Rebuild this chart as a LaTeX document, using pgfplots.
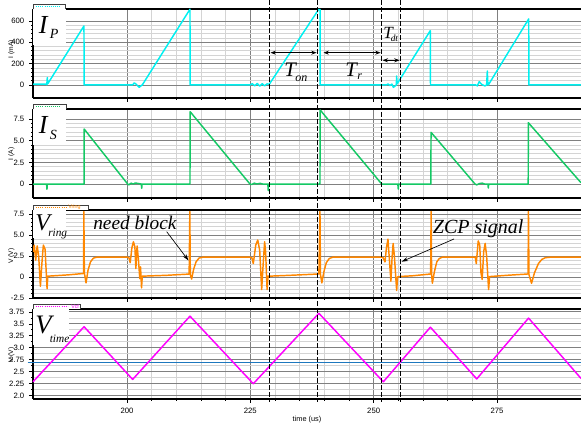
\documentclass[border=0pt]{standalone}
\usepackage{pgfplots}
\pgfplotsset{compat=1.18}
\usepackage{fontspec}
\setmainfont{Liberation Serif}
\newfontfamily\lsans{Liberation Sans}
\usetikzlibrary{arrows.meta}

\definecolor{cIP}{RGB}{0,240,240}
\definecolor{cIS}{RGB}{20,200,100}
\definecolor{cVr}{RGB}{255,135,0}
\definecolor{cVt}{RGB}{255,0,255}
\definecolor{cBl}{RGB}{30,120,190}
\definecolor{gmaj}{RGB}{128,128,128}
\definecolor{gmin}{RGB}{212,212,212}

\pgfplotsset{
 panel/.style={
   scale only axis, width=411pt, xmin=180.95, xmax=292.03,
   axis x line=box, axis y line=left,
   axis line style={-, line width=0.8pt, black},
   xtick={200,225,250,275}, minor x tick num=4,
   xtick pos=left,
   tick align=outside, major tick length=3pt, minor tick length=1.5pt,
   tick style={black, line width=0.5pt},
   grid=both, major grid style={gmaj, line width=0.6pt}, minor grid style={gmin, line width=0.5pt},
   ticklabel style={font=\lsans\fontsize{5.8}{6}\selectfont},
   anchor=south west,
   every axis plot/.append style={line width=1.1pt, line join=round},
 }
}

\begin{document}
\begin{tikzpicture}
\useasboundingbox (0,0) rectangle (435.75pt,317.25pt);

% ---------- Panel 1: I_P ----------
\begin{axis}[panel, at={(24.75pt,243.75pt)}, height=66.75pt,
  ymin=-122, ymax=712, ytick={0,200,400,600}, yticklabels={0,200,400,600},
  minor y tick num=4, xticklabels={}]
\fill[white] (axis description cs:0,1) rectangle (axis description cs:0.060,0.596);
\addplot[cIP] coordinates {
(180.95,8) (183.6,8) (183.75,3) (183.85,70) (183.95,12) (191.28,553) (191.32,0)
(201.1,0) (201.5,20) (201.9,5) (202.5,-22) (202.9,-5) (203.1,0) (212.77,710) (212.8,0)
(224.9,0) (225.4,12) (225.9,-8) (226.4,14) (226.9,-10) (227.4,12) (227.9,-8) (228.4,10) (228.85,7)
(238.85,708) (239.15,706) (239.17,0)
(252.6,0) (252.9,10) (253.3,-5) (253.7,8) (254.0,-22) (254.4,-8) (254.6,0) (254.66,84) (254.75,10)
(261.48,509) (261.52,0)
(270.7,0) (271.0,-8) (271.4,31) (271.9,5) (272.57,-9) (272.9,0) (273.04,131) (273.15,5) (273.24,0)
(281.43,619) (281.47,0) (292.03,0)
};
\end{axis}

% ---------- Panel 2: I_S ----------
\begin{axis}[panel, at={(24.75pt,168.75pt)}, height=66.75pt,
  ymin=-1.61, ymax=8.65, ytick={0,2.5,5,7.5}, yticklabels={0,2.5,5.0,7.5},
  minor y tick num=4, xticklabels={}]
\fill[white] (axis description cs:0,1) rectangle (axis description cs:0.061,0.596);
\addplot[cIS] coordinates {
(180.95,0) (183.7,0) (183.78,-0.6) (183.86,0) (191.3,0) (191.32,6.34)
(200.14,0) (200.4,-0.1) (200.8,0.1) (201.3,0) (201.7,0.12) (202.9,0) (202.98,-0.5) (203.06,0)
(212.77,0) (212.8,8.34)
(224.93,0) (225.3,-0.05) (225.8,0.1) (226.3,0) (227.0,0.08) (227.5,0) (228.55,0) (228.64,-0.77) (228.72,0)
(239.12,0) (239.15,8.54)
(251.63,0) (254.9,0) (254.99,-0.58) (255.08,0)
(261.6,0) (261.63,5.96)
(270.55,0) (270.9,-0.1) (271.4,0.05) (272.0,0.1) (272.5,0) (273.16,0) (273.24,-0.46) (273.32,0)
(281.33,0) (281.35,7.07) (292.03,0.15)
};
\end{axis}

% ---------- Panel 3: V_ring ----------
\begin{axis}[panel, at={(24.75pt,93.75pt)}, height=66pt,
  ymin=-2.5, ymax=7.98, ytick={-2.5,0,2.5,5,7.5}, yticklabels={-2.5,0,2.5,5.0,7.5},
  minor y tick num=4, xticklabels={}]
\fill[white] (axis description cs:0,1) rectangle (axis description cs:0.060,0.68);
\addplot[cVr] coordinates {
(180.95,3.0) (181.2,3.8) (181.5,2.0) (181.8,3.7) (182.1,2.5) (182.45,-1.1) (182.8,2.0) (183.05,3.8) (183.4,3.3) (183.8,-1.4) (183.95,0.1)
(188,0.25) (191.2,0.42) (191.26,7.8) (191.36,0.5) (191.7,-0.7) (192.1,0.8) (192.6,1.8) (193.2,2.25) (194,2.38) (200.1,2.36)
(200.4,2.3) (200.65,1.7) (201.0,3.5) (201.3,4.2) (201.6,3.6) (201.8,1.0) (202.05,3.7) (202.3,2.2) (202.6,-0.2) (202.75,1.2) (202.95,-1.3) (203.1,0.1)
(208,0.2) (212.6,0.35) (212.74,7.8) (212.84,0.3) (213.1,-0.25) (213.5,0.9) (214.0,1.8) (214.6,2.25) (215.5,2.38) (224.9,2.36)
(225.3,2.3) (225.6,1.6) (226.1,3.8) (226.5,4.4) (226.9,3.2) (227.3,-1.5) (227.6,1.5) (227.9,4.2) (228.1,3.0) (228.4,-1.5) (228.6,0.1) (228.85,0.1)
(233,0.2) (238.9,0.36) (239.12,7.8) (239.22,0.3) (239.5,-0.7) (239.9,0.6) (240.4,1.7) (241.0,2.2) (241.8,2.38) (251.6,2.36)
(251.9,2.3) (252.3,1.8) (252.6,3.5) (252.9,4.5) (253.2,2.0) (253.5,-0.5) (253.75,2.5) (253.95,4.0) (254.2,2.5) (254.66,-1.6) (254.85,0.0) (255.0,0.05)
(258,0.15) (261.55,0.36) (261.65,7.8) (261.75,0.3) (261.9,-0.75) (262.3,0.6) (262.8,1.8) (263.3,2.2) (263.9,2.36) (270.6,2.36)
(270.8,1.6) (271.2,4.3) (271.5,3.8) (271.75,0.5) (272.0,-0.3) (272.3,3.0) (272.6,4.0) (272.9,2.5) (273.3,-1.5) (273.5,0.05)
(277,0.2) (281.3,0.36) (281.38,7.8) (281.48,0.3) (282.0,-0.75) (282.6,0.5) (283.4,1.6) (284.1,2.1) (284.8,2.3) (286,2.37) (292.03,2.37)
};
\end{axis}

% ---------- Panel 4: V_time ----------
\begin{axis}[panel, at={(24.75pt,18pt)}, height=67.5pt, clip=false,
  ymin=1.931, ymax=3.81, ytick={2,2.25,2.5,2.75,3,3.25,3.5,3.75},
  yticklabels={2.0,2.25,2.5,2.75,3.0,3.25,3.5,3.75},
  minor y tick num=1, xticklabels={200,225,250,275},
  xlabel={time (us)}, xlabel style={font=\lsans\fontsize{5.5}{6}\selectfont, inner sep=0pt, yshift=1pt}]
\fill[white] (axis description cs:0,1) rectangle (axis description cs:0.066,0.6);
\addplot[cBl, line width=1pt] coordinates {(179.87,2.69) (292.03,2.69)};
\addplot[cVt] coordinates {
(180.95,2.29) (191.3,3.44) (201.15,2.34) (212.77,3.66) (225.6,2.25) (238.9,3.72)
(251.96,2.29) (261.5,3.43) (270.89,2.35) (281.4,3.62) (292.03,2.36)
};
\end{axis}

% ---------- overlay in pixel units ----------
\begin{scope}[x=0.75pt,y=-0.75pt,yshift=317.25pt]
 % tabs
 \draw[black!75, line width=0.5pt, fill=white] (33,9) -- (33,4.5) -- (65,4.5) -- (65,9);
 \draw[cIP, densely dotted, line width=0.6pt] (36,6.5) -- (60,6.5);
 \draw[black!75, line width=0.5pt, fill=white] (33,109) -- (33,104.7) -- (66.7,104.7) -- (66.7,109);
 \draw[cIS, densely dotted, line width=0.6pt] (36,106.8) -- (60,106.8);
 \draw[black!75, line width=0.5pt, fill=white] (33,210) -- (33,205) -- (88,205) -- (88,210);
 \draw[cVr, densely dotted, line width=0.6pt] (36,207.3) -- (66,207.3);
 \node[anchor=west, inner sep=0, text=cVr, font=\lsans\fontsize{4}{4}\selectfont] at (68,207.5) {Vring};
 \draw[black!75, line width=0.5pt, fill=white] (33,309) -- (33,304.5) -- (80,304.5) -- (80,309);
 \draw[cVt, densely dotted, line width=0.6pt] (36,306.8) -- (68,306.8);
 \node[anchor=west, inner sep=0, text=cVt, font=\lsans\fontsize{4}{4}\selectfont] at (71,306.8) {Vcf};

 % y labels
 \node[rotate=90, inner sep=0, font=\lsans\fontsize{5}{5}\selectfont] at (11.5,49) {I (mA)};
 \node[rotate=90, inner sep=0, font=\lsans\fontsize{5}{5}\selectfont] at (11.5,154) {I (A)};
 \node[rotate=90, inner sep=0, font=\lsans\fontsize{5}{5}\selectfont] at (11.5,256) {V (V)};
 \node[rotate=90, inner sep=0, font=\lsans\fontsize{5}{5}\selectfont] at (11.5,355) {V (V)};

 % panel labels
 \node[anchor=base west, inner sep=0, font=\itshape\fontsize{19.5}{20}\selectfont] at (38.5,33.3) {I};
 \node[anchor=base west, inner sep=0, font=\itshape\fontsize{10.5}{11}\selectfont] at (49.5,38.3) {P};
 \node[anchor=base west, inner sep=0, font=\itshape\fontsize{19.5}{20}\selectfont] at (38.5,133.3) {I};
 \node[anchor=base west, inner sep=0, font=\itshape\fontsize{10.5}{11}\selectfont] at (49.5,140) {S};
 \node[anchor=base west, inner sep=0, font=\itshape\fontsize{18}{19}\selectfont] at (35,230.7) {V};
 \node[anchor=base west, inner sep=0, font=\itshape\fontsize{8.5}{9}\selectfont] at (48,237) {ring};
 \node[anchor=base west, inner sep=0, font=\itshape\fontsize{20}{21}\selectfont] at (35,333.3) {V};
 \node[anchor=base west, inner sep=0, font=\itshape\fontsize{8.5}{9}\selectfont] at (49.5,343) {time};

 % dashed vertical markers
 \foreach \xx in {269.3,317.7,381.7,400.7}
   \draw[black, line width=0.7pt, dash pattern=on 3.75pt off 1.5pt] (\xx,0) -- (\xx,402);

 % timing arrows
 \draw[{Stealth[length=4pt,width=3pt]}-{Stealth[length=4pt,width=3pt]}, line width=0.6pt] (270.5,52.7) -- (316.6,52.7);
 \draw[{Stealth[length=4pt,width=3pt]}-{Stealth[length=4pt,width=3pt]}, line width=0.6pt] (323.5,52.7) -- (380.6,52.7);
 \draw[{Stealth[length=4pt,width=3pt]}-{Stealth[length=4pt,width=3pt]}, line width=0.6pt] (382.6,60.3) -- (399.6,60.3);
 \node[anchor=base west, inner sep=0, font=\itshape\fontsize{15.5}{16}\selectfont] at (284,76.7) {T};
 \node[anchor=base west, inner sep=0, font=\itshape\fontsize{9}{9}\selectfont] at (295,81.7) {on};
 \node[anchor=base west, inner sep=0, font=\itshape\fontsize{15.5}{16}\selectfont] at (345,76.7) {T};
 \node[anchor=base west, inner sep=0, font=\itshape\fontsize{9}{9}\selectfont] at (357,80) {r};
 \node[anchor=base west, inner sep=0, font=\itshape\fontsize{12.8}{13}\selectfont] at (383,38.3) {T};
 \node[anchor=base west, inner sep=0, font=\itshape\fontsize{7}{7}\selectfont] at (390.5,42) {dt};

 % annotations
 \node[anchor=base west, inner sep=0, font=\itshape\fontsize{14.5}{15}\selectfont] at (93,230) {need block};
 \draw[-{Stealth[length=5pt,width=3pt]}, line width=0.5pt] (166.7,231.7) -- (188.5,260.5);
 \node[anchor=base west, inner sep=0, font=\itshape\fontsize{15}{16}\selectfont] at (432.7,233.3) {ZCP signal};
 \draw[-{Stealth[length=5pt,width=3pt]}, line width=0.5pt] (454,239) -- (401.5,261.7);
\end{scope}
\end{tikzpicture}
\end{document}
